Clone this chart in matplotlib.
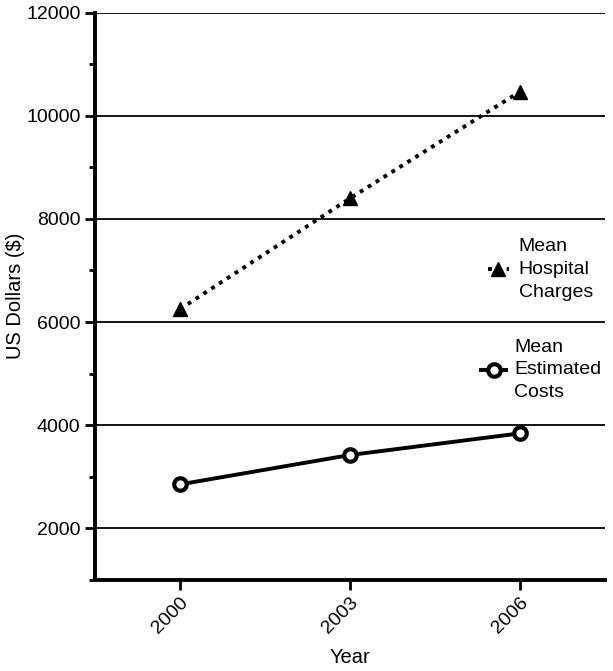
import matplotlib
matplotlib.use("Agg")
import matplotlib.pyplot as plt
from matplotlib.ticker import MultipleLocator

plt.rcParams['font.family'] = ['Liberation Sans', 'DejaVu Sans']

# Data
years = [2000, 2003, 2006]
hospital_charges = [6250, 8400, 10470]
estimated_costs = [2850, 3420, 3840]

fig = plt.figure(figsize=(6.13, 6.71), dpi=100)
ax = fig.add_axes([0.155, 0.136, 0.832, 0.845])

ax.plot(years, hospital_charges, color='black', linestyle=(0, (1, 1.4)), linewidth=2.8,
        marker='^', markersize=10, label='Mean\nHospital\nCharges')
ax.plot(years, estimated_costs, color='black', linestyle='-', linewidth=2.8,
        marker='o', markersize=9, markerfacecolor='white', markeredgewidth=3,
        label='Mean\nEstimated\nCosts')

ax.set_xlim(1998.5, 2007.5)
ax.set_ylim(1000, 12000)
ax.set_xticks(years)
ax.set_xticklabels([str(y) for y in years], rotation=45, ha='right', rotation_mode='anchor')
ax.set_yticks(range(2000, 12001, 2000))
ax.yaxis.set_minor_locator(MultipleLocator(1000))

ax.grid(axis='y', which='major', color='black', linewidth=1.3)
ax.set_axisbelow(True)

for s in ['top', 'right']:
    ax.spines[s].set_visible(False)
for s in ['left', 'bottom']:
    ax.spines[s].set_linewidth(2.8)
ax.spines['left'].set_bounds(1000, 12000)

ax.tick_params(axis='both', which='major', direction='out', length=7, width=2, labelsize=14)
ax.tick_params(axis='y', which='minor', direction='out', length=4, width=2)

ax.set_xlabel('Year', fontsize=14.5, labelpad=8)
ax.set_ylabel('US Dollars ($)', fontsize=14.5)
ax.yaxis.set_label_coords(-0.137, 0.5)

h, l = ax.get_legend_handles_labels()
leg1 = ax.legend([h[0]], [l[0]], loc='center left', bbox_to_anchor=(0.77, 0.547),
                 frameon=False, handlelength=1.1, handletextpad=0.5, fontsize=14,
                 borderaxespad=0, borderpad=0)
ax.add_artist(leg1)
leg2 = ax.legend([h[1]], [l[1]], loc='center left', bbox_to_anchor=(0.757, 0.37),
                 frameon=False, handlelength=1.3, handletextpad=0.4, fontsize=14,
                 borderaxespad=0, borderpad=0)
for leg in (leg1, leg2):
    for t in leg.get_texts():
        t.set_linespacing(1.45)

fig.savefig('out.png', dpi=100)
